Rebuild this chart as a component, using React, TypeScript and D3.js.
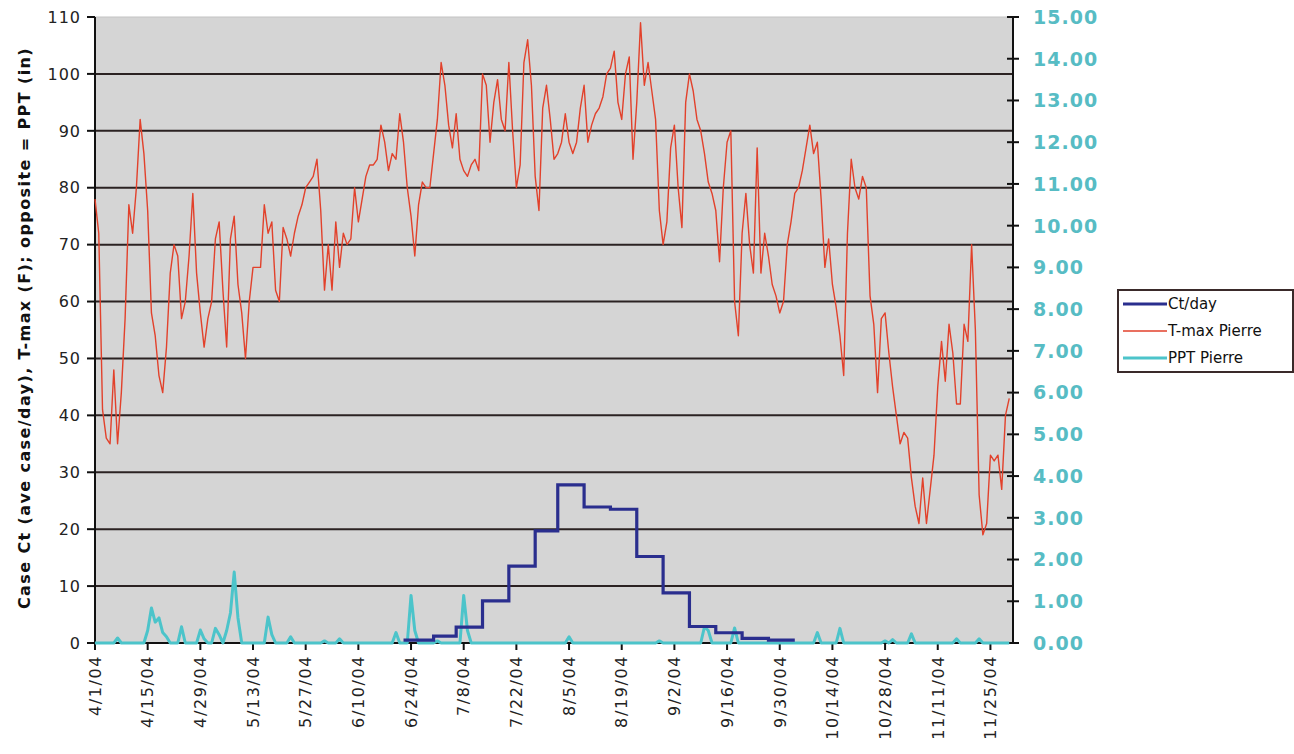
import React from "react";
import * as d3 from "d3";

// ---- DATA ----
const startDate = "2004-04-01";
const tickEveryDays = 14;
const tickCount = 18;

// Daily T-max Pierre (F), 4/1/04 .. 11/30/04
const tmax: number[] = [
  78, 72, 41, 36, 35, 48, 35, 44, 57, 77, 72, 80, 92, 86, 76, 58, 54, 47, 44, 52,
  65, 70, 68, 57, 60, 68, 79, 65, 58, 52, 57, 60, 71, 74, 62, 52, 71, 75, 63, 58,
  50, 60, 66, 66, 66, 77, 72, 74, 62, 60, 73, 71, 68, 72, 75, 77, 80, 81, 82, 85,
  76, 62, 70, 62, 74, 66, 72, 70, 71, 80, 74, 78, 82, 84, 84, 85, 91, 88, 83, 86,
  85, 93, 88, 80, 75, 68, 77, 81, 80, 80, 86, 92, 102, 98, 91, 87, 93, 85, 83, 82,
  84, 85, 83, 100, 98, 88, 95, 99, 92, 90, 102, 90, 80, 84, 102, 106, 98, 82, 76, 94,
  98, 92, 85, 86, 88, 93, 88, 86, 88, 94, 98, 88, 91, 93, 94, 96, 100, 101, 104, 95,
  92, 100, 103, 85, 95, 109, 98, 102, 97, 92, 76, 70, 74, 87, 91, 80, 73, 95, 100, 97,
  92, 90, 86, 81, 79, 76, 67, 80, 88, 90, 60, 54, 72, 79, 70, 65, 87, 65, 72, 68,
  63, 61, 58, 60, 70, 74, 79, 80, 83, 87, 91, 86, 88, 78, 66, 71, 63, 59, 54, 47,
  72, 85, 80, 78, 82, 80, 61, 56, 44, 57, 58, 51, 45, 40, 35, 37, 36, 29, 24, 21,
  29, 21, 27, 33, 45, 53, 46, 56, 51, 42, 42, 56, 53, 70, 55, 26, 19, 21, 33, 32,
  33, 27, 40, 43,
];

// PPT Pierre (in): days with rain (day index from 4/1) and amounts; other days 0
const pptDays: number[] = [6, 14, 15, 16, 17, 18, 19, 23, 28, 29, 32, 33, 35, 36, 37, 38, 46, 47, 52, 61, 65, 80, 84, 85, 91, 98, 99, 126, 150, 162, 163, 170, 192, 198, 210, 212, 217, 229, 235];
const pptValues: number[] = [0.12, 0.3, 0.84, 0.5, 0.6, 0.25, 0.15, 0.39, 0.31, 0.1, 0.35, 0.2, 0.3, 0.72, 1.7, 0.6, 0.62, 0.2, 0.15, 0.05, 0.1, 0.25, 1.14, 0.3, 0.05, 1.14, 0.3, 0.15, 0.05, 0.39, 0.3, 0.36, 0.25, 0.35, 0.05, 0.08, 0.22, 0.1, 0.1];

// Ct/day (average cases per day), weekly steps
const ctStarts: string[] = ["2004-06-22", "2004-06-30", "2004-07-06", "2004-07-13", "2004-07-20", "2004-07-27", "2004-08-02", "2004-08-09", "2004-08-16", "2004-08-23", "2004-08-30", "2004-09-06", "2004-09-13", "2004-09-20", "2004-09-27", "2004-10-04"];
const ctValues: number[] = [0.5, 1.2, 2.8, 7.4, 13.5, 19.7, 27.8, 23.9, 23.5, 15.2, 8.8, 2.9, 1.8, 0.8, 0.5, 0.5];

const leftTicks: number[] = [0, 10, 20, 30, 40, 50, 60, 70, 80, 90, 100, 110];
const rightTicks: number[] = [0, 1, 2, 3, 4, 5, 6, 7, 8, 9, 10, 11, 12, 13, 14, 15];
const legendLabels: string[] = ["Ct/day", "T-max Pierre", "PPT Pierre"];

// ---- STYLE / LAYOUT ----
const W = 1294;
const H = 754;
const M = { left: 95, right: 1013, top: 17, bottom: 643 };
const C_CT = "#2a2e8e";
const C_T = "#e2412b";
const C_P = "#4cc4ca";
const GRID = "#2b2222";
const FONT = "DejaVu Sans, Verdana, sans-serif";

export default function App() {
  const parse = (s: string) => new Date(s + "T00:00:00Z");
  const d0 = parse(startDate);
  const dayDate = (i: number) => d3.utcDay.offset(d0, i);

  const x = d3.scaleUtc().domain([d0, parse("2004-12-01")]).range([M.left, M.right]);
  const yL = d3.scaleLinear().domain([0, 110]).range([M.bottom, M.top]);
  const yR = d3.scaleLinear().domain([0, 15]).range([M.bottom, M.top]);

  const tData = tmax.map((v, i) => ({ d: dayDate(i), v }));
  const pptDaily = tmax.map((_, i) => {
    const k = pptDays.indexOf(i);
    return { d: dayDate(i), v: k >= 0 ? pptValues[k] : 0 };
  });
  const ctData = ctStarts.map((s, i) => ({ d: parse(s), v: ctValues[i] }));

  const tLine = d3.line<{ d: Date; v: number }>().x((p) => x(p.d)).y((p) => yL(p.v));
  const pLine = d3.line<{ d: Date; v: number }>().x((p) => x(p.d)).y((p) => yR(p.v));
  const cLine = d3
    .line<{ d: Date; v: number }>()
    .x((p) => x(p.d))
    .y((p) => yL(p.v))
    .curve(d3.curveStepAfter);

  const xTicks = d3.range(tickCount).map((k) => d3.utcDay.offset(d0, k * tickEveryDays));
  const fmt = d3.utcFormat("%-m/%-d/%y");

  const legendX = 1118;
  const legendY = 290;

  return (
    <svg
      width={W}
      height={H}
      style={{ position: "absolute", left: 0, top: 0, background: "#fff" }}
      fontFamily={FONT}
    >
      <rect x={M.left} y={M.top} width={M.right - M.left} height={M.bottom - M.top} fill="#d5d5d5" stroke="#c4c4c4" />
      {leftTicks.filter((t) => t > 0 && t < 110).map((t) => (
        <line key={"g" + t} x1={M.left} x2={M.right} y1={yL(t)} y2={yL(t)} stroke={GRID} strokeWidth={2} />
      ))}

      {/* left axis */}
      <line x1={M.left} x2={M.left} y1={M.top} y2={M.bottom} stroke="#111" strokeWidth={2} />
      {leftTicks.map((t) => (
        <g key={"l" + t}>
          <line x1={M.left - 8} x2={M.left} y1={yL(t)} y2={yL(t)} stroke="#111" strokeWidth={2} />
          <text x={M.left - 14} y={yL(t)} dy="0.36em" textAnchor="end" fontSize={16} letterSpacing={1} fill="#222">
            {t}
          </text>
        </g>
      ))}
      <text
        transform={`translate(30,328) rotate(-90)`}
        textAnchor="middle"
        fontSize={16}
        fontWeight="bold"
        letterSpacing={1.4}
        fill="#111"
      >
        Case Ct (ave case/day), T-max (F); opposite = PPT (in)
      </text>

      {/* right axis */}
      <line x1={M.right} x2={M.right} y1={M.top} y2={M.bottom} stroke="#111" strokeWidth={2} />
      {rightTicks.map((t) => (
        <g key={"r" + t}>
          <line x1={M.right - 6} x2={M.right + 6} y1={yR(t)} y2={yR(t)} stroke="#111" strokeWidth={2} />
          <text x={M.right + 20} y={yR(t)} dy="0.36em" fontSize={19} fontWeight="bold" letterSpacing={1} fill="#57bcc4">
            {t.toFixed(2)}
          </text>
        </g>
      ))}

      {/* x axis */}
      <line x1={M.left} x2={M.right} y1={M.bottom} y2={M.bottom} stroke="#111" strokeWidth={2} />
      {xTicks.map((d, i) => (
        <g key={"x" + i}>
          <line x1={x(d)} x2={x(d)} y1={M.bottom} y2={M.bottom + 7} stroke="#111" strokeWidth={2} />
          <text
            transform={`translate(${x(d)},${M.bottom + 12}) rotate(-90)`}
            textAnchor="end"
            dy="0.36em"
            fontSize={16}
            letterSpacing={1.6}
            fill="#222"
          >
            {fmt(d)}
          </text>
        </g>
      ))}

      {/* series */}
      <path d={pLine(pptDaily) || ""} fill="none" stroke={C_P} strokeWidth={3} strokeLinejoin="round" />
      <path d={cLine(ctData) || ""} fill="none" stroke={C_CT} strokeWidth={3.2} />
      <path d={tLine(tData) || ""} fill="none" stroke={C_T} strokeWidth={1.4} strokeLinejoin="round" />

      {/* legend */}
      <rect x={legendX} y={legendY} width={175} height={82} fill="#fff" stroke="#3a2a2a" strokeWidth={2} />
      {legendLabels.map((lab, i) => {
        const cy = legendY + 14 + i * 27;
        const col = [C_CT, C_T, C_P][i];
        const sw = [3, 1.5, 3][i];
        return (
          <g key={lab}>
            <line x1={legendX + 5} x2={legendX + 49} y1={cy} y2={cy} stroke={col} strokeWidth={sw} />
            <text x={legendX + 50} y={cy} dy="0.36em" fontSize={15} fill="#111">
              {lab}
            </text>
          </g>
        );
      })}
    </svg>
  );
}
